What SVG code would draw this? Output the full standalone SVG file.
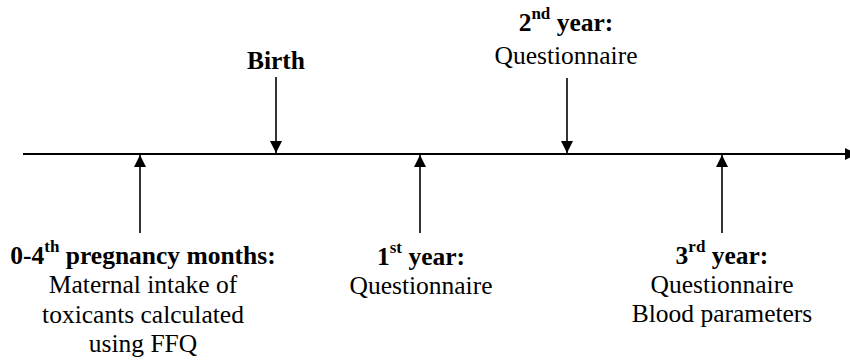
<svg xmlns="http://www.w3.org/2000/svg" width="850" height="361" viewBox="0 0 850 361">
<defs>
<marker id="ah" viewBox="0 0 12 12" refX="12" refY="6" markerWidth="12" markerHeight="12" markerUnits="userSpaceOnUse" orient="auto">
<path d="M0,0 L12,6 L0,12 z" fill="#000"/>
</marker>
</defs>
<rect width="850" height="361" fill="#fff"/>
<g id="connectors" stroke="#000" fill="none">
<line stroke-width="2" x1="23" y1="154" x2="857" y2="154" marker-end="url(#ah)"/>
<g stroke-width="1.6">
<line x1="140" y1="233" x2="140" y2="155" marker-end="url(#ah)"/>
<line x1="276" y1="77" x2="276" y2="153" marker-end="url(#ah)"/>
<line x1="420" y1="233" x2="420" y2="155" marker-end="url(#ah)"/>
<line x1="567" y1="78" x2="567" y2="153" marker-end="url(#ah)"/>
<line x1="722" y1="233" x2="722" y2="155" marker-end="url(#ah)"/>
</g>
</g>
<g id="labels" font-family="Liberation Serif" font-size="25.5" text-anchor="middle" fill="#000">
<g id="birth">
<text font-weight="bold" x="276" y="69">Birth</text>
</g>
<g id="year2">
<text font-weight="bold" x="566" y="31">2<tspan font-size="17" dy="-12">nd</tspan><tspan dy="12"> year:</tspan></text>
<text x="566" y="64">Questionnaire</text>
</g>
<g id="pregnancy">
<text font-weight="bold" x="143" y="264">0-4<tspan font-size="17" dy="-12">th</tspan><tspan dy="12"> pregnancy months:</tspan></text>
<text x="143" y="293">Maternal intake of</text>
<text x="143" y="323">toxicants calculated</text>
<text x="143" y="352">using FFQ</text>
</g>
<g id="year1">
<text font-weight="bold" x="421" y="265">1<tspan font-size="17" dy="-12">st</tspan><tspan dy="12"> year:</tspan></text>
<text x="421" y="294">Questionnaire</text>
</g>
<g id="year3">
<text font-weight="bold" x="722" y="264">3<tspan font-size="17" dy="-12">rd</tspan><tspan dy="12"> year:</tspan></text>
<text x="722" y="293">Questionnaire</text>
<text x="722" y="322">Blood parameters</text>
</g>
</g>
</svg>
